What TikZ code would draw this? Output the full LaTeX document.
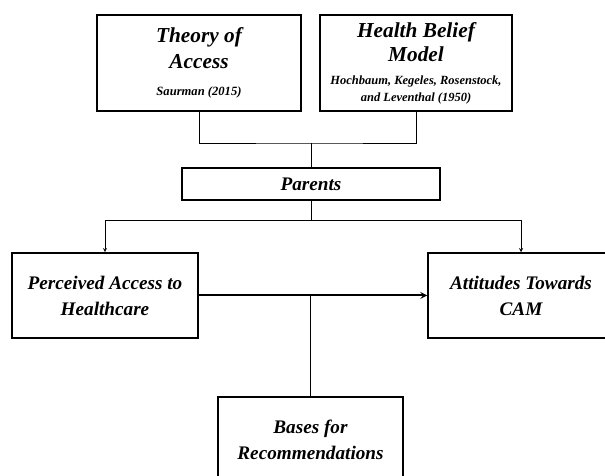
\documentclass[tikz,border=0pt]{standalone}
\usepackage{fontspec}
\setmainfont{Liberation Serif}
\usetikzlibrary{arrows, positioning}

\begin{document}
\begin{tikzpicture}[x=1pt, y=1pt, node distance=217pt, >=stealth,
    box/.style={rectangle, draw, line width=1.5pt, text centered, align=center, inner sep=0pt, font=\bfseries\itshape\fontsize{19.2}{26}\selectfont}]
    \useasboundingbox (0,0) rectangle (605,476);
    % Nodes
    \node (theory) [box, minimum width=204pt, minimum height=96pt, font=\bfseries\itshape\fontsize{21.3}{26}\selectfont] at (199,413) {Theory of\\Access\\[1pt]{\fontsize{12.6}{14}\selectfont Saurman (2015)}};
    \node (hbm) [box, right of=theory, minimum width=192pt, minimum height=96pt, font=\bfseries\itshape\fontsize{21.3}{24}\selectfont] {Health Belief\\Model\\[-1pt]{\fontsize{12.5}{14}\selectfont Hochbaum, Kegeles, Rosenstock,}\\[-7pt]{\fontsize{12.5}{14}\selectfont and Leventhal (1950)}};
    \node (parents) [box, minimum width=258pt, minimum height=32pt] at (311,292) {Parents};
    \node (perceived) [box, minimum width=186pt, minimum height=85pt] at (105,180.5) {Perceived Access to\\Healthcare};
    \node (attitudes) [box, minimum width=186pt, minimum height=85pt] at (521,180.5) {Attitudes Towards\\CAM};
    \node (bases) [box, minimum width=185pt, minimum height=85pt] at (310.5,36.5) {Bases for\\Recommendations};
    \coordinate (join) at (311,333);
    \coordinate (split) at (311,256);

    % Arrows
    \draw[line width=0.8pt] (theory.south) |- (join) -| (hbm.south);
    \draw[line width=0.8pt] (join) -- (parents.north);
    \draw[line width=0.8pt] (parents.south) -- (split);
    \draw[->, line width=0.9pt] (split) -| (perceived.north);
    \draw[->, line width=0.9pt] (split) -| (attitudes.north);
    \draw[->, line width=2pt] (perceived.east) -- (attitudes.west);
    \draw[line width=0.8pt] (bases.north) -- (bases.north |- perceived.east);
\end{tikzpicture}
\end{document}
